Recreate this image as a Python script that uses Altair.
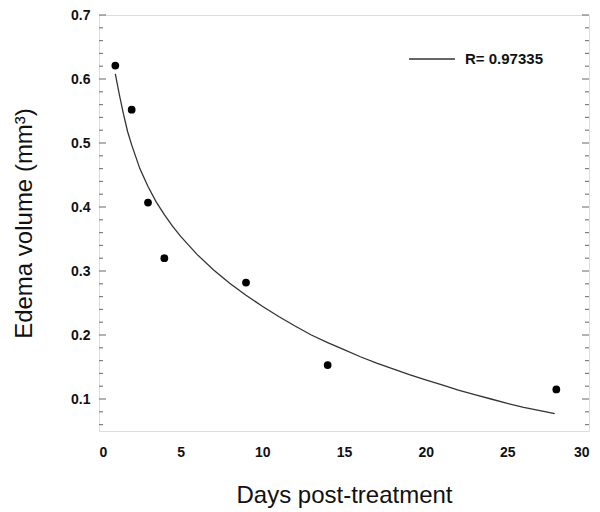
import altair as alt
import pandas as pd

# measured data points
days = [1, 2, 3, 4, 9, 14, 28]
volume = [0.621, 0.552, 0.407, 0.320, 0.282, 0.153, 0.115]

# fitted curve
curve_x = [1, 1.25, 1.5, 1.75, 2, 2.5, 3, 3.5, 4, 4.5, 5, 6, 7, 8, 9, 10, 11, 12, 13, 14,
           15, 16, 17, 18, 19, 20, 21, 22, 23, 24, 25, 26, 27, 27.9]
curve_y = [0.608, 0.575, 0.545, 0.518, 0.497, 0.460, 0.432, 0.408, 0.388, 0.370, 0.354,
           0.326, 0.302, 0.281, 0.262, 0.245, 0.229, 0.214, 0.200, 0.188, 0.177, 0.166,
           0.156, 0.147, 0.138, 0.130, 0.122, 0.114, 0.107, 0.100, 0.093, 0.087, 0.082, 0.077]
fit_label = "R= 0.97335"

x_ticks = [0, 5, 10, 15, 20, 25, 30]
y_labels = [0.1, 0.2, 0.3, 0.4, 0.5, 0.6, 0.7]
y_minor = [0.06, 0.08, 0.12, 0.14, 0.16, 0.18, 0.22, 0.24, 0.26, 0.28, 0.32, 0.34, 0.36, 0.38,
           0.42, 0.44, 0.46, 0.48, 0.52, 0.54, 0.56, 0.58, 0.62, 0.64, 0.66, 0.68]

pts = pd.DataFrame({"x": days, "y": volume})
crv = pd.DataFrame({"x": curve_x, "y": curve_y, "series": [fit_label] * len(curve_x), "o": list(range(len(curve_x)))})
major_df = pd.DataFrame({"y": y_labels})
minor_df = pd.DataFrame({"y": y_minor})

FONT = "Liberation Sans"
GRAY = "#808080"

xscale = alt.Scale(domain=[0, 30], nice=False, zero=False)
yscale = alt.Scale(domain=[0.05, 0.7], nice=False, zero=False)

xaxis = alt.Axis(values=x_ticks, format="d", ticks=False, domain=False, grid=False,
                 labelFont=FONT, labelFontSize=14, labelFontWeight="bold", labelColor="#111",
                 labelPadding=14, title="Days post-treatment", titleFont=FONT, titleFontSize=24,
                 titleFontWeight="normal", titleColor="#111", titleY=71, titleBaseline="alphabetic")
yaxis = alt.Axis(values=y_labels, format=".1f", ticks=False, domain=False, grid=False,
                 labelFont=FONT, labelFontSize=14, labelFontWeight="bold", labelColor="#111",
                 labelPadding=9, title="Edema volume (mm³)", titleFont=FONT, titleFontSize=24,
                 titleFontWeight="normal", titleColor="#111", titleX=-68, titleBaseline="alphabetic")

line = alt.Chart(crv).mark_line(strokeWidth=1.3).encode(
    x=alt.X("x:Q", scale=xscale, axis=xaxis),
    y=alt.Y("y:Q", scale=yscale, axis=yaxis),
    order="o:Q",
    color=alt.Color("series:N", scale=alt.Scale(range=["#333333"]),
                    legend=alt.Legend(orient="none", legendX=309, legendY=20, padding=0, title=None,
                                      symbolType="stroke", symbolSize=2116, symbolStrokeWidth=1.3,
                                      symbolStrokeColor="#333333",
                                      labelFont=FONT, labelFontSize=15, labelFontWeight="bold",
                                      labelColor="#111", labelOffset=9)),
)

points = alt.Chart(pts).mark_point(filled=True, size=60, color="black", opacity=1).encode(
    x=alt.X("x:Q", scale=xscale),
    y=alt.Y("y:Q", scale=yscale),
)

tick_left_major = alt.Chart(major_df).mark_rule(color=GRAY, strokeWidth=1.2).encode(
    x=alt.value(0), x2=alt.value(7), y=alt.Y("y:Q", scale=yscale))
tick_left_minor = alt.Chart(minor_df).mark_rule(color=GRAY, strokeWidth=1.2).encode(
    x=alt.value(0), x2=alt.value(4), y=alt.Y("y:Q", scale=yscale))
tick_right_major = alt.Chart(major_df).mark_rule(color=GRAY, strokeWidth=1.2).encode(
    x=alt.value(483), x2=alt.value(490), y=alt.Y("y:Q", scale=yscale))
tick_right_minor = alt.Chart(minor_df).mark_rule(color=GRAY, strokeWidth=1.2).encode(
    x=alt.value(486), x2=alt.value(490), y=alt.Y("y:Q", scale=yscale))

chart = alt.layer(tick_left_major, tick_left_minor, tick_right_major, tick_right_minor, line, points).properties(
    width=490, height=416, autosize="none",
    padding={"left": 91, "top": 7, "right": 3, "bottom": 81},
).configure_view(stroke=GRAY, strokeWidth=1.5).configure(background="white")

chart.save("out.html", embed_options={"renderer": "svg", "actions": False})
